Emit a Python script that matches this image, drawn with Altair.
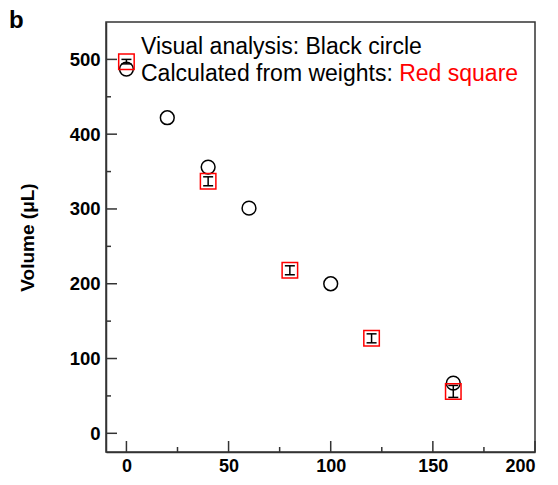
import altair as alt
import pandas as pd

# Visual analysis (black circles)
circle_x = [0, 20, 40, 60, 100, 160]
circle_y = [487, 422, 356, 301, 200, 67]

# Calculated from weights (red squares) with error
square_x = [0, 40, 80, 120, 160]
square_y = [497, 337, 218, 127, 56]
square_err = [3, 6, 6, 6, 8]

x_major = [0, 50, 100, 150, 200]
x_minor = [25, 75, 125, 175]
y_major = [0, 100, 200, 300, 400, 500]
y_minor = [50, 150, 250, 350, 450]

W, H = 429, 430
AX = "#333333"

circ = pd.DataFrame({"x": circle_x, "y": circle_y})
sq = pd.DataFrame({"x": square_x, "y": square_y, "e": square_err})
sq["lo"] = sq["y"] - sq["e"]
sq["hi"] = sq["y"] + sq["e"]

xs = alt.Scale(domain=[-10, 200], nice=False, zero=False)
ys = alt.Scale(domain=[-25, 550], nice=False, zero=False)

xaxis = alt.Axis(values=x_major, ticks=False, grid=False, title=None,
                 labelFont="Liberation Sans", labelFontWeight="bold", labelFontSize=18,
                 labelColor="black", labelPadding=5, domainColor=AX, domainWidth=1.5)
yaxis = alt.Axis(values=y_major, ticks=False, grid=False, title="Volume (μL)",
                 labelFont="Liberation Sans", labelFontWeight="bold", labelFontSize=18.5,
                 labelColor="black", labelPadding=6, domainColor=AX, domainWidth=1.5,
                 titleFont="Liberation Sans", titleFontWeight="bold", titleFontSize=19,
                 titleColor="black", titleX=-79, titleY=H / 2, titleAngle=270,
                 titleBaseline="middle", titleAlign="center")

base_c = alt.Chart(circ)
base_s = alt.Chart(sq)

circles = base_c.mark_point(shape="circle", filled=False, size=190, strokeWidth=1.5,
                            color="black", opacity=1).encode(
    x=alt.X("x:Q", scale=xs, axis=xaxis),
    y=alt.Y("y:Q", scale=ys, axis=yaxis),
)

ebar = base_s.mark_rule(color="black", strokeWidth=1.5).encode(
    x=alt.X("x:Q", scale=xs), y=alt.Y("lo:Q", scale=ys), y2="hi:Q")
cap_lo = base_s.mark_rule(color="black", strokeWidth=1.5, xOffset=-5, x2Offset=5).encode(
    x=alt.X("x:Q", scale=xs), x2="x:Q", y=alt.Y("lo:Q", scale=ys))
cap_hi = base_s.mark_rule(color="black", strokeWidth=1.5, xOffset=-5, x2Offset=5).encode(
    x=alt.X("x:Q", scale=xs), x2="x:Q", y=alt.Y("hi:Q", scale=ys))

squares = base_s.mark_point(shape="square", filled=False, size=240, strokeWidth=1.5,
                            color="#ff0000", opacity=1).encode(
    x=alt.X("x:Q", scale=xs), y=alt.Y("y:Q", scale=ys))

# inward ticks
xmaj = alt.Chart(pd.DataFrame({"v": x_major})).mark_rule(color=AX, strokeWidth=1.5).encode(
    x=alt.X("v:Q", scale=xs), y=alt.value(H), y2=alt.value(H - 11))
xmin = alt.Chart(pd.DataFrame({"v": x_minor})).mark_rule(color=AX, strokeWidth=1.5).encode(
    x=alt.X("v:Q", scale=xs), y=alt.value(H), y2=alt.value(H - 5))
ymaj = alt.Chart(pd.DataFrame({"v": y_major})).mark_rule(color=AX, strokeWidth=1.5).encode(
    y=alt.Y("v:Q", scale=ys), x=alt.value(0), x2=alt.value(11))
ymin = alt.Chart(pd.DataFrame({"v": y_minor})).mark_rule(color=AX, strokeWidth=1.5).encode(
    y=alt.Y("v:Q", scale=ys), x=alt.value(0), x2=alt.value(5))

FS = 23
txt_font = "Liberation Sans"
t1 = alt.Chart(pd.DataFrame({"t": ["Visual analysis: Black circle"]})).mark_text(
    font=txt_font, fontSize=FS, align="left", baseline="alphabetic", color="black").encode(
    text="t:N", x=alt.value(35), y=alt.value(32))
t2 = alt.Chart(pd.DataFrame({"t": ["Calculated from weights: "]})).mark_text(
    font=txt_font, fontSize=FS, align="left", baseline="alphabetic", color="black").encode(
    text="t:N", x=alt.value(35), y=alt.value(59))
t3 = alt.Chart(pd.DataFrame({"t": ["Red square"]})).mark_text(
    font=txt_font, fontSize=FS, align="left", baseline="alphabetic", color="#ff0000").encode(
    text="t:N", x=alt.value(35 + 11.226 * FS), y=alt.value(59))
tb = alt.Chart(pd.DataFrame({"t": ["b"]})).mark_text(
    font=txt_font, fontSize=24, fontWeight="bold", align="left", baseline="top",
    color="black").encode(text="t:N", x=alt.value(-97), y=alt.value(-13))

chart = alt.layer(
    circles, ebar, cap_lo, cap_hi, squares, xmaj, xmin, ymaj, ymin, t1, t2, t3, tb
).properties(
    width=W, height=H,
    autosize=alt.AutoSizeParams(type="none"),
    padding={"left": 98, "top": 14, "right": 15, "bottom": 23},
    background="white",
).configure_view(stroke=AX, strokeWidth=1.5)

chart.save("out.html", embed_options={"renderer": "svg", "actions": False})
